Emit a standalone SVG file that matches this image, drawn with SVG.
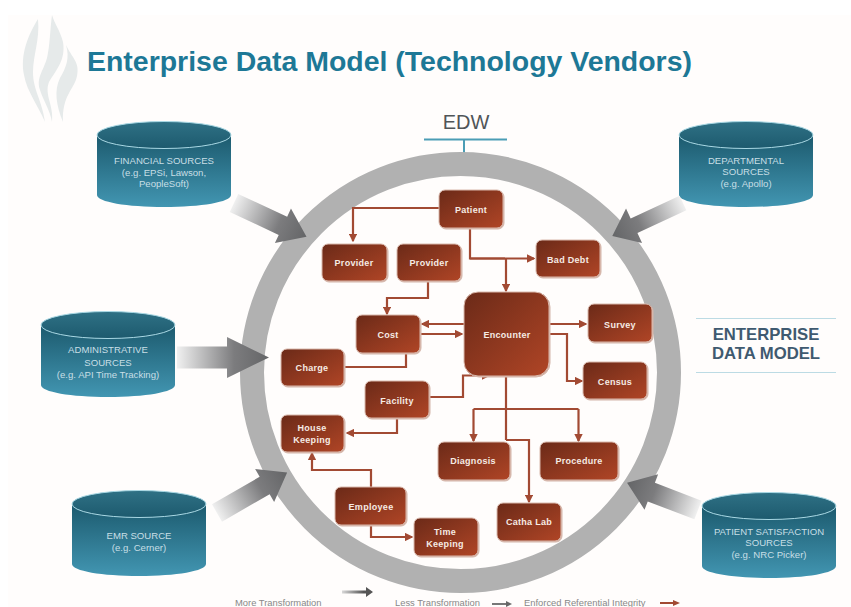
<svg xmlns="http://www.w3.org/2000/svg" width="851" height="607" viewBox="0 0 851 607">
<defs>
<linearGradient id="cyl" x1="0" y1="0" x2="0" y2="1"><stop offset="0" stop-color="#1c5a6e"/><stop offset="1" stop-color="#4296b2"/></linearGradient>
<linearGradient id="top" x1="0" y1="0" x2="0" y2="1"><stop offset="0" stop-color="#2f7185"/><stop offset="1" stop-color="#1d5a6e"/></linearGradient>
<linearGradient id="box" x1="0" y1="0" x2="1" y2="1"><stop offset="0" stop-color="#6b2a18"/><stop offset="1" stop-color="#b04526"/></linearGradient>
<linearGradient id="ar" x1="0" y1="0" x2="1" y2="0"><stop offset="0" stop-color="#f0f0f0"/><stop offset="0.62" stop-color="#7c7c7e"/><stop offset="1" stop-color="#646567"/></linearGradient>
<linearGradient id="sm" x1="0" y1="0" x2="1" y2="0"><stop offset="0" stop-color="#d8d8d8"/><stop offset="0.7" stop-color="#555"/></linearGradient>
<marker id="ah" markerWidth="4" markerHeight="4" refX="3.4" refY="2" orient="auto" markerUnits="strokeWidth"><path d="M0,0L4,2L0,4Z" fill="#a24a33"/></marker>
<g id="c"><path d="M0,14V74C0,81 30,86 67,86S134,81 134,74V14Z" fill="url(#cyl)"/><ellipse cx="67" cy="14" rx="67" ry="13.500" fill="url(#top)" stroke="#a9d8e4" stroke-width="1"/></g>
</defs>
<style>
.t{font-family:"Liberation Sans",Arial,sans-serif}
.n{font-size:9px;font-weight:700;fill:#f6ebe4;text-anchor:middle;letter-spacing:.3px}
.s{font-size:9.6px;fill:#c8dfe6;text-anchor:middle}
.b{fill:url(#box);stroke:#d9b8ac;stroke-width:1;filter:drop-shadow(1px 1px .6px #d4b5a9)}
.l{fill:none;stroke:#a24a33;stroke-width:2.2}
.a{marker-end:url(#ah)}
.leg{font-size:9.4px;fill:#888}
.arw{fill:url(#ar)}
</style>
<rect width="851" height="607" fill="#fff"/>
<rect x="8" y="15" width="843" height="592" fill="#fffdfc"/>
<g id="logo" fill="#e6eaea"><path d="M38,19C28,35 20,55 24,75C27,92 38,105 45,122C42,100 33,90 33,72C33,55 40,40 38,19Z"/><path d="M52,15C50,30 50,45 47,58C43,72 36,78 40,90C43,100 50,110 52,122C54,105 44,95 49,82C56,70 66,60 63,42C60,30 55,25 52,15Z"/><path d="M66,45C72,58 80,62 77,76C74,90 62,95 63,122C56,105 54,90 60,78C66,68 70,58 66,45Z"/></g>
<text id="title" class="t" x="87" y="71" font-size="28.460" font-weight="700" fill="#1d7896">Enterprise Data Model (Technology Vendors)</text>
<g id="edw"><text class="t" x="466" y="129" font-size="20" fill="#505558" text-anchor="middle">EDW</text><path d="M424,139.500H507M464,140V160" stroke="#4b9db5" stroke-width="2" fill="none"/><rect x="461" y="157" width="6" height="6" fill="#4b8fa6"/></g>
<circle id="ring" cx="460.500" cy="372.500" r="208.500" fill="none" stroke="#b1b1b1" stroke-width="24"/>
<g id="sources">
<g id="financial"><use href="#c" x="97" y="121"/><text class="t s"><tspan x="164" y="164">FINANCIAL SOURCES</tspan><tspan x="164" y="176">(e.g. EPSi, Lawson,</tspan><tspan x="164" y="187">PeopleSoft)</tspan></text></g>
<g id="departmental"><use href="#c" x="679" y="121"/><text class="t s"><tspan x="746" y="164">DEPARTMENTAL</tspan><tspan x="746" y="175">SOURCES</tspan><tspan x="746" y="187">(e.g. Apollo)</tspan></text></g>
<g id="administrative"><use href="#c" x="41" y="311"/><text class="t s"><tspan x="108" y="353">ADMINISTRATIVE</tspan><tspan x="108" y="366">SOURCES</tspan><tspan x="108" y="378">(e.g. API Time Tracking)</tspan></text></g>
<g id="emr"><use href="#c" x="72" y="490"/><text class="t s"><tspan x="139" y="539">EMR SOURCE</tspan><tspan x="139" y="551">(e.g. Cerner)</tspan></text></g>
<g id="patient-sat"><use href="#c" x="702" y="492"/><text class="t s"><tspan x="769" y="535">PATIENT SATISFACTION</tspan><tspan x="769" y="546">SOURCES</tspan><tspan x="769" y="558">(e.g. NRC Picker)</tspan></text></g>
</g>
<g id="big-arrows">
<path class="arw" transform="translate(234,203) rotate(25)" d="M0,-10H54V-19L80,0L54,19V10H0Z"/>
<path class="arw" transform="translate(683,203) rotate(155)" d="M0,-8H54V-19L78,0L54,19V8H0Z"/>
<path class="arw" transform="translate(177,357.500)" d="M0,-11H50V-20.500L92,0L50,20.500V11H0Z"/>
<path class="arw" transform="translate(217,513) rotate(-30)" d="M0,-10H55V-19L81,0L55,19V10H0Z"/>
<path class="arw" transform="translate(698,510) rotate(201)" d="M0,-10H50V-19L76,0L50,19V10H0Z"/>
</g>
<g id="connectors">
<path class="l a" d="M439,208H353V241"/>
<path class="l" d="M470,228V258.500H505"/>
<path class="l a" d="M470,258.500H534"/>
<path class="l a" d="M506,258.500V291"/>
<path class="l a" d="M428,282V298H387V314"/>
<path class="l a" d="M464,324H422"/>
<path class="l a" d="M420,334H462"/>
<path class="l" d="M406,353V367H345"/>
<path class="l a" d="M429,397H463V375.500H489"/>
<path class="l a" d="M397,418V433H347"/>
<path class="l a" d="M549,324H586"/>
<path class="l a" d="M549,334H567V381H582"/>
<path class="l" d="M506,376V440"/>
<path class="l a" d="M473.500,409V441"/>
<path class="l a" d="M578.500,409V441"/>
<path class="l" d="M473.500,409H578.500"/>
<path class="l a" d="M506,440H529V502"/>
<path class="l a" d="M371,487V470H312V453"/>
<path class="l a" d="M371,525V537H412"/>
</g>
<g id="nodes">
<g id="patient"><rect class="b" x="439" y="190" width="64" height="38" rx="6"/><text class="t n" x="471" y="213">Patient</text></g>
<g id="provider1"><rect class="b" x="322" y="244" width="65" height="37" rx="6"/><text class="t n" x="354" y="266">Provider</text></g>
<g id="provider2"><rect class="b" x="397" y="244" width="64" height="37" rx="6"/><text class="t n" x="429" y="266">Provider</text></g>
<g id="baddebt"><rect class="b" x="536" y="240" width="64" height="37" rx="6"/><text class="t n" x="568" y="263">Bad Debt</text></g>
<g id="cost"><rect class="b" x="356" y="315" width="64" height="38" rx="6"/><text class="t n" x="388" y="338">Cost</text></g>
<g id="encounter"><rect class="b" x="464" y="292" width="85" height="84" rx="14"/><text class="t n" x="507" y="338">Encounter</text></g>
<g id="survey"><rect class="b" x="588" y="304" width="64" height="38" rx="6"/><text class="t n" x="620" y="328">Survey</text></g>
<g id="census"><rect class="b" x="583" y="362" width="64" height="37" rx="6"/><text class="t n" x="615" y="385">Census</text></g>
<g id="charge"><rect class="b" x="281" y="349" width="63" height="37" rx="6"/><text class="t n" x="312" y="371">Charge</text></g>
<g id="facility"><rect class="b" x="365" y="381" width="64" height="37" rx="6"/><text class="t n" x="397" y="404">Facility</text></g>
<g id="housekeeping"><rect class="b" x="281" y="415" width="63" height="37" rx="6"/><text class="t n"><tspan x="312" y="431">House</tspan><tspan x="312" y="443">Keeping</tspan></text></g>
<g id="diagnosis"><rect class="b" x="438" y="442" width="72" height="38" rx="6"/><text class="t n" x="473" y="464">Diagnosis</text></g>
<g id="procedure"><rect class="b" x="540" y="442" width="78" height="38" rx="6"/><text class="t n" x="579" y="464">Procedure</text></g>
<g id="employee"><rect class="b" x="335" y="487" width="71" height="38" rx="6"/><text class="t n" x="371" y="510">Employee</text></g>
<g id="timekeeping"><rect class="b" x="414" y="518" width="64" height="38" rx="6"/><text class="t n"><tspan x="445" y="535">Time</tspan><tspan x="445" y="547">Keeping</tspan></text></g>
<g id="cathalab"><rect class="b" x="497" y="503" width="64" height="38" rx="6"/><text class="t n" x="529" y="525">Catha Lab</text></g>
</g>
<g id="edm"><path d="M696,318.500H836M696,372.500H836" stroke="#bcdbe4" stroke-width="1.200"/><text class="t" font-size="16.700" font-weight="700" fill="#3f5a70" text-anchor="middle"><tspan x="766" y="340">ENTERPRISE</tspan><tspan x="766" y="359">DATA MODEL</tspan></text></g>
<g id="legend">
<text class="t leg" x="235" y="606">More Transformation</text>
<path fill="url(#sm)" d="M342,590.500H366V587L373,592L366,597V593.500H342Z"/>
<text class="t leg" x="395" y="606">Less Transformation</text>
<path d="M492,604H508" stroke="#777" stroke-width="2"/><path d="M506,601L512,604L506,607Z" fill="#666"/>
<text class="t leg" x="524" y="606">Enforced Referential Integrity</text>
<path d="M660,603H675" stroke="#a24a33" stroke-width="2"/><path d="M673,600L680,603L673,606Z" fill="#a24a33"/>
</g>
</svg>
